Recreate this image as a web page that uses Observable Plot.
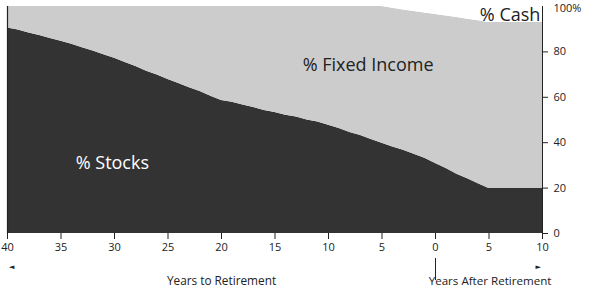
<!DOCTYPE html>
<html>
<head>
<meta charset="utf-8">
<script src="https://cdn.jsdelivr.net/npm/d3@7"></script>
<script src="https://cdn.jsdelivr.net/npm/@observablehq/plot@0.6"></script>
<style>
  html, body { margin: 0; padding: 0; background: #fff; }
  #chart svg { display: block; }
</style>
</head>
<body>
<div id="chart"></div>
<script>
// Years relative to retirement (positive = years before, negative = years after)
const years = [40,39,38,37,36,35,34,33,32,31,30,29,28,27,26,25,24,23,22,21,20,19,18,17,16,15,14,13,12,11,10,9,8,7,6,5,4,3,2,1,0,-1,-2,-3,-4,-5,-6,-7,-8,-9,-10];
const stocks = [90.5,89.6,88.3,87.2,85.9,84.7,83.4,81.8,80.4,78.7,77.2,75.3,73.6,71.5,69.8,67.8,66.1,64.2,62.6,60.5,58.6,57.8,56.6,55.5,54.2,53.3,52.1,51.3,50,49.1,47.7,46.3,44.5,43.2,41.4,39.8,38.1,36.7,34.9,33.1,30.8,28.6,26.1,24.1,21.9,19.8,19.8,19.8,19.8,19.8,19.8];
const cash = [0,0,0,0,0,0,0,0,0,0,0,0,0,0,0,0,0,0,0,0,0,0,0,0,0,0,0,0,0,0,0,0,0,0,0,0,0.8,1.5,2.2,2.9,3.5,4.2,4.9,5.6,6.3,7,7,7,7,7,7];
const fixedIncome = years.map((_, i) => +(100 - stocks[i] - cash[i]).toFixed(2));
const seriesNames = ["Stocks", "Fixed Income", "Cash"];
const seriesColors = ["#333333", "#cccccc", "#ffffff"];
const yTicks = [0, 20, 40, 60, 80, 100];
const xTicks = [40, 35, 30, 25, 20, 15, 10, 5, 0, -5, -10];

const rows = [];
years.forEach((yr, i) => {
  rows.push({year: yr, series: "Stocks", value: stocks[i]});
  rows.push({year: yr, series: "Fixed Income", value: fixedIncome[i]});
  rows.push({year: yr, series: "Cash", value: cash[i]});
});

const font = "'Open Sans', 'DejaVu Sans', sans-serif";

const chart = Plot.plot({
  width: 590,
  height: 293,
  marginTop: 6,
  marginBottom: 60,
  marginLeft: 7,
  marginRight: 48,
  style: {fontFamily: font, fontSize: "11px", color: "#222", background: "#fff"},
  x: {domain: [40, -10], ticks: xTicks, tickFormat: d => Math.abs(d), label: null},
  y: {domain: [0, 100], ticks: yTicks, label: null},
  color: {domain: seriesNames, range: seriesColors},
  marks: [
    Plot.areaY(rows, Plot.stackY({order: seriesNames}, {x: "year", y: "value", z: "series", fill: "series", curve: "linear"})),
    Plot.ruleX([40], {stroke: "#222", strokeWidth: 1.2}),
    Plot.ruleX([-10], {stroke: "#222", strokeWidth: 1}),
    Plot.axisY({anchor: "right", ticks: yTicks.filter(d => d < 100), tickSize: 5, tickPadding: 6, label: null, fontSize: 11, stroke: "#222"}),
    Plot.text([100], {y: d => d, frameAnchor: "right", dx: 11, dy: 2, text: d => d + "%", textAnchor: "start", fontSize: 11, fill: "#222"}),
    Plot.axisX({anchor: "bottom", ticks: xTicks, tickFormat: d => Math.abs(d), tickSize: 6, tickPadding: 4, label: null, fontSize: 11}),
    Plot.text(["% Stocks"], {x: 30.2, y: 31, text: d => d, fill: "#fff", fontSize: 18}),
    Plot.text(["% Fixed Income"], {x: 6.3, y: 74, text: d => d, fill: "#222", fontSize: 18}),
    Plot.text(["% Cash"], {x: -9.8, y: 96.3, text: d => d, textAnchor: "end", fill: "#222", fontSize: 18}),
    Plot.text(["◄"], {x: 39.6, frameAnchor: "bottom", dy: 35, text: d => d, fontSize: 7, fill: "#222"}),
    Plot.text(["►"], {x: -9.6, frameAnchor: "bottom", dy: 35, text: d => d, fontSize: 7, fill: "#222"}),
    Plot.ruleX([0], {stroke: "#222", strokeWidth: 1,
      render: (index, scales, values, dims, context, next) => {
        const g = next(index, scales, values, dims, context);
        const x = scales.x(0);
        const y0 = dims.height - dims.marginBottom;
        d3.select(g).selectAll("line").attr("x1", x).attr("x2", x).attr("y1", y0 + 25).attr("y2", y0 + 47);
        return g;
      }}),
    Plot.text(["Years to Retirement"], {x: 20, frameAnchor: "bottom", dy: 51, text: d => d, fontSize: 11.8, fill: "#222"}),
    Plot.text(["Years After Retirement"], {x: -5.1, frameAnchor: "bottom", dy: 51, text: d => d, fontSize: 11.6, fill: "#222"})
  ]
});
document.getElementById("chart").appendChild(chart);
</script>
</body>
</html>
